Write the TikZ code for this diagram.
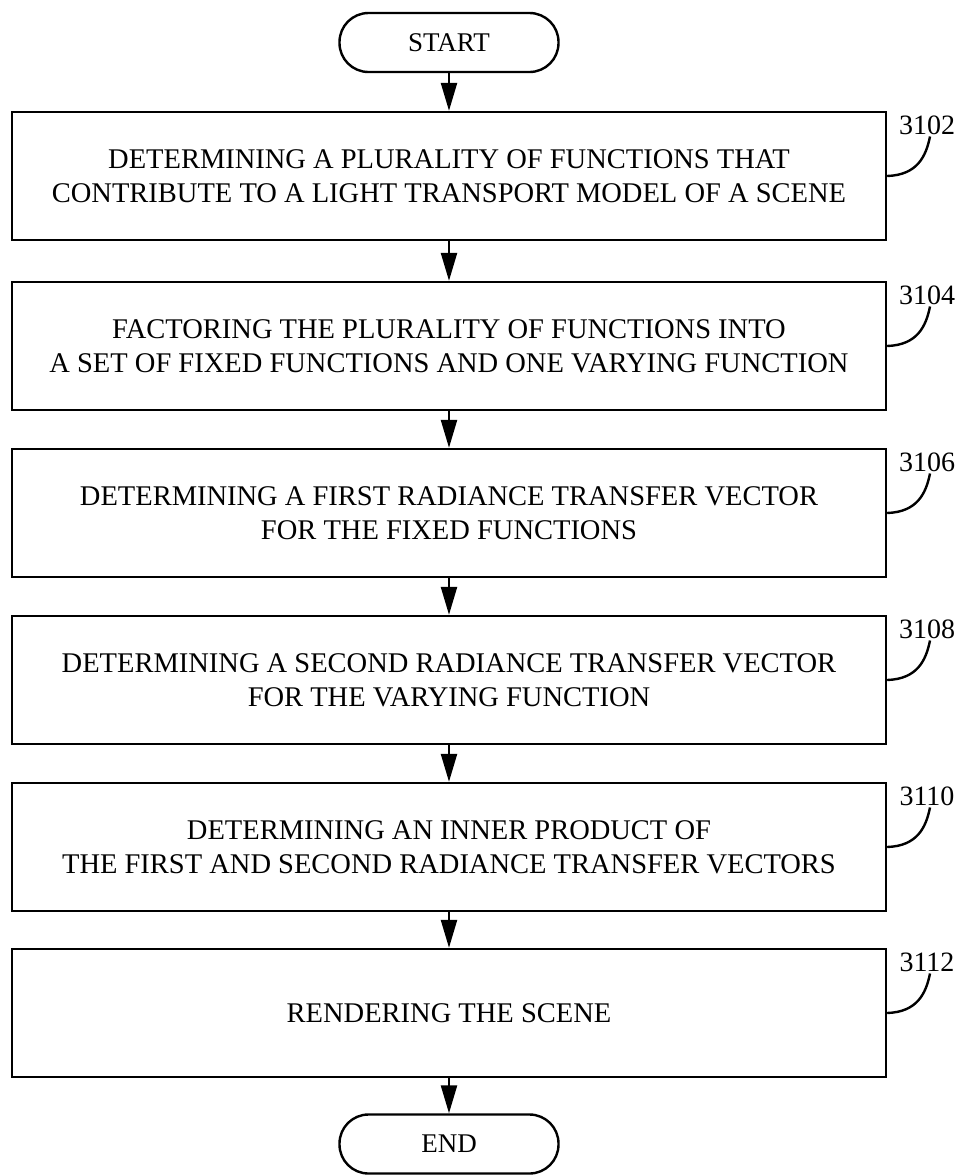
\documentclass[tikz,border=0pt]{standalone}
\usepackage{fontspec}
\setmainfont{Liberation Serif}
\usetikzlibrary{arrows.meta}
\begin{document}
\begin{tikzpicture}[x=1pt,y=-1pt,
  stepbox/.style={draw, line width=2.4pt, minimum width=874pt, minimum height=128pt, align=center, inner sep=0pt, font=\fontsize{28.5}{34}\selectfont},
  term/.style={draw, line width=2.4pt, minimum width=219pt, minimum height=59pt, rounded corners=29pt, inner sep=0pt, font=\fontsize{27}{32}\selectfont},
  flow/.style={line width=2.4pt, -{Triangle[length=28pt,width=16pt]}},
  reflabel/.style={font=\fontsize{28}{32}\selectfont, inner sep=2pt, anchor=base},
  lead/.style={line width=2.4pt}]
\useasboundingbox (0,0) rectangle (959,1176);
\node[term] (start) at (449,42.5) {START};
\node[stepbox] (b1) at (449,176) {DETERMINING A PLURALITY OF FUNCTIONS THAT\\CONTRIBUTE TO A LIGHT TRANSPORT MODEL OF A SCENE};
\node[stepbox] (b2) at (449,346) {FACTORING THE PLURALITY OF FUNCTIONS INTO\\A SET OF FIXED FUNCTIONS AND ONE VARYING FUNCTION};
\node[stepbox] (b3) at (449,513) {DETERMINING A FIRST RADIANCE TRANSFER VECTOR\\FOR THE FIXED FUNCTIONS};
\node[stepbox] (b4) at (449,680) {DETERMINING A SECOND RADIANCE TRANSFER VECTOR\\FOR THE VARYING FUNCTION};
\node[stepbox] (b5) at (449,847) {DETERMINING AN INNER PRODUCT OF\\THE FIRST AND SECOND RADIANCE TRANSFER VECTORS};
\node[stepbox] (b6) at (449,1013) {RENDERING THE SCENE};
\node[term] (end) at (449,1144) {END};
\draw[flow] (start) -- (b1);
\draw[flow] (b1) -- (b2);
\draw[flow] (b2) -- (b3);
\draw[flow] (b3) -- (b4);
\draw[flow] (b4) -- (b5);
\draw[flow] (b5) -- (b6);
\draw[flow] (b6) -- (end);
\foreach \i/\t/\y in {1/3102/134,2/3104/304,3/3106/471,4/3108/638,5/3110/805,6/3112/971}{
  \node[reflabel] (l\i) at (927,\y) {\t};
  \draw[lead] (b\i.east) .. controls +(30,-1) and +(-4,20) .. ([xshift=3pt]l\i.south);
}
\end{tikzpicture}
\end{document}
